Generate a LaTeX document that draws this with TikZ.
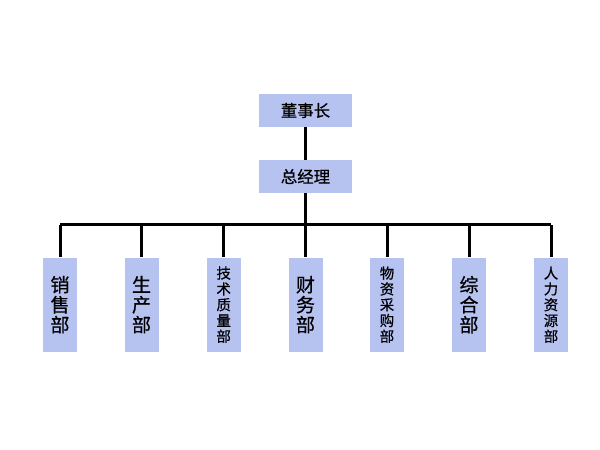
\documentclass[tikz,border=0pt]{standalone}
\usepackage{fontspec}
\newfontfamily\cjk[FakeBold=0.6]{Noto Sans CJK SC}
\definecolor{boxblue}{RGB}{182,194,240}
\begin{document}
\begin{tikzpicture}[x=0.5pt,y=0.5pt,
    topbox/.style={fill=boxblue, minimum width=46.5pt, minimum height=16.5pt,
        inner sep=0pt, font=\cjk\fontsize{8.2}{9}\selectfont},
    deptbox/.style={fill=boxblue, minimum width=17pt, minimum height=47pt,
        inner sep=0pt, align=center, font=\cjk\fontsize{9.5}{10}\selectfont},
    smallbox/.style={deptbox, font=\cjk\fontsize{7.2}{7.9}\selectfont},
    link/.style={line width=1.5pt}]
    \useasboundingbox (0,0) rectangle (600,450);

    % Top management
    \node[topbox] (chair) at (305.5,339.5) {董事长};
    \node[topbox] (gm) at (305.5,273.5) {总经理};

    % Departments
    \node[deptbox] (sales) at (60,145.3) {销\\售\\部};
    \node[deptbox] (prod) at (141.5,145.3) {生\\产\\部};
    \node[smallbox] (tech) at (223.7,145.3) {技\\术\\质\\量\\部};
    \node[deptbox] (fin) at (305.5,145.3) {财\\务\\部};
    \node[smallbox] (purch) at (387,145.3) {物\\资\\采\\购\\部};
    \node[deptbox] (admin) at (469,145.3) {综\\合\\部};
    \node[smallbox] (hr) at (551,145.3) {人\\力\\资\\源\\部};

    % Bus line
    \coordinate (bus) at (305.5,225);

    % Connectors
    \draw[link] (chair) -- (gm);
    \draw[link] (gm) -- (fin);
    \draw[link] (sales.north |- bus) -- (hr.north |- bus);
    \draw[link] (sales.north) -- (sales.north |- bus);
    \draw[link] (prod.north) -- (prod.north |- bus);
    \draw[link] (tech.north) -- (tech.north |- bus);
    \draw[link] (purch.north) -- (purch.north |- bus);
    \draw[link] (admin.north) -- (admin.north |- bus);
    \draw[link] (hr.north) -- (hr.north |- bus);
\end{tikzpicture}
\end{document}
